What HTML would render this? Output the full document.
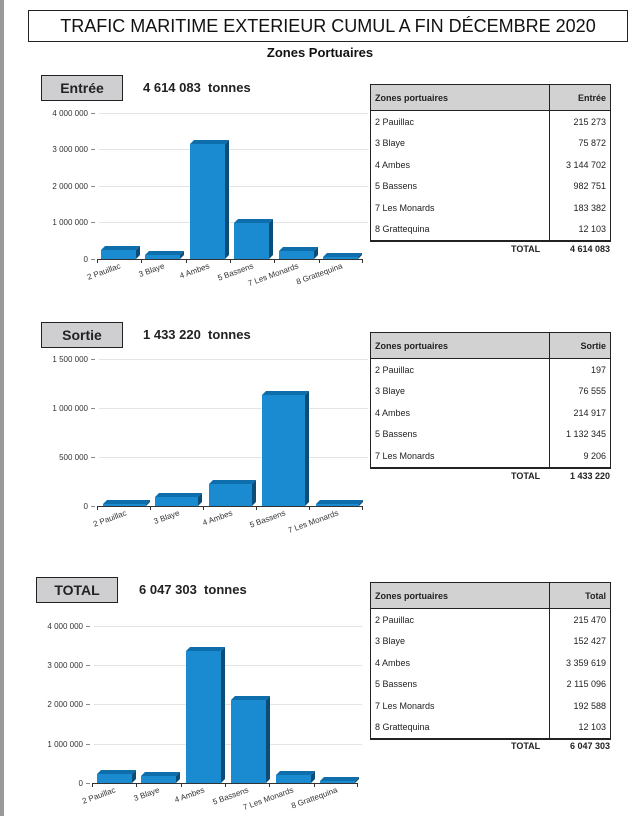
<!DOCTYPE html>
<html><head><meta charset="utf-8"><style>
html,body{margin:0;padding:0;background:#fff;}
body{width:640px;height:816px;position:relative;overflow:hidden;font-family:"Liberation Sans",Arial,sans-serif;}
.bar{position:absolute;left:0;top:0;width:4px;height:816px;background:#9a9a9a;}
.t{position:absolute;}
table{position:absolute;border-collapse:collapse;font-size:9px;color:#222;width:241px;}
td{border-left:1px solid #222;border-right:1px solid #222;padding:0 4px;height:21.5px;}
tr.h td{background:#d2d2d2;font-weight:bold;height:25px;border-top:1px solid #222;border-bottom:1px solid #222;}
tr.last td{border-bottom:2px solid #222;}
td.r{text-align:right;}
.tot{position:absolute;font-size:9px;font-weight:bold;color:#222;}
</style></head><body>
<div class="bar"></div>
<div class="t" style="left:28px;top:10px;width:598px;height:30px;border:1px solid #222;text-align:center;font-size:18px;line-height:30px;color:#111;">TRAFIC MARITIME EXTERIEUR CUMUL A FIN DÉCEMBRE 2020</div>
<div class="t" style="left:0;width:640px;top:45px;text-align:center;font-size:13px;font-weight:bold;color:#111;">Zones Portuaires</div>

<div class="t" style="left:41px;top:75px;width:80px;height:24px;border:1px solid #222;background:#cfcfd1;text-align:center;line-height:24px;font-weight:bold;font-size:14px;color:#222;">Entrée</div>
<div class="t" style="left:143px;top:80px;font-size:13px;font-weight:bold;color:#222;">4 614 083&nbsp; tonnes</div>
<div class="t" style="left:41px;top:322px;width:80px;height:24px;border:1px solid #222;background:#cfcfd1;text-align:center;line-height:24px;font-weight:bold;font-size:14px;color:#222;">Sortie</div>
<div class="t" style="left:143px;top:327px;font-size:13px;font-weight:bold;color:#222;">1 433 220&nbsp; tonnes</div>
<div class="t" style="left:36px;top:577px;width:80px;height:24px;border:1px solid #222;background:#cfcfd1;text-align:center;line-height:24px;font-weight:bold;font-size:14px;color:#222;">TOTAL</div>
<div class="t" style="left:139px;top:582px;font-size:13px;font-weight:bold;color:#222;">6 047 303&nbsp; tonnes</div>

<table style="left:370px;top:84px;">
<tr class="h"><td>Zones portuaires</td><td class="r" style="width:52px">Entrée</td></tr>
<tr><td>2 Pauillac</td><td class="r">215 273</td></tr>
<tr><td>3 Blaye</td><td class="r">75 872</td></tr>
<tr><td>4 Ambes</td><td class="r">3 144 702</td></tr>
<tr><td>5 Bassens</td><td class="r">982 751</td></tr>
<tr><td>7 Les Monards</td><td class="r">183 382</td></tr>
<tr class="last"><td>8 Grattequina</td><td class="r">12 103</td></tr>
</table>
<div class="tot" style="left:511px;top:244px;">TOTAL</div><div class="tot" style="left:560px;width:50px;text-align:right;top:244px;">4 614 083</div>

<table style="left:370px;top:332px;">
<tr class="h"><td>Zones portuaires</td><td class="r" style="width:52px">Sortie</td></tr>
<tr><td>2 Pauillac</td><td class="r">197</td></tr>
<tr><td>3 Blaye</td><td class="r">76 555</td></tr>
<tr><td>4 Ambes</td><td class="r">214 917</td></tr>
<tr><td>5 Bassens</td><td class="r">1 132 345</td></tr>
<tr class="last"><td>7 Les Monards</td><td class="r">9 206</td></tr>
</table>
<div class="tot" style="left:511px;top:471px;">TOTAL</div><div class="tot" style="left:560px;width:50px;text-align:right;top:471px;">1 433 220</div>

<table style="left:370px;top:582px;">
<tr class="h"><td>Zones portuaires</td><td class="r" style="width:52px">Total</td></tr>
<tr><td>2 Pauillac</td><td class="r">215 470</td></tr>
<tr><td>3 Blaye</td><td class="r">152 427</td></tr>
<tr><td>4 Ambes</td><td class="r">3 359 619</td></tr>
<tr><td>5 Bassens</td><td class="r">2 115 096</td></tr>
<tr><td>7 Les Monards</td><td class="r">192 588</td></tr>
<tr class="last"><td>8 Grattequina</td><td class="r">12 103</td></tr>
</table>
<div class="tot" style="left:511px;top:741px;">TOTAL</div><div class="tot" style="left:560px;width:50px;text-align:right;top:741px;">6 047 303</div>

<svg class="t" style="left:0;top:0" width="640" height="816" xmlns="http://www.w3.org/2000/svg" font-family="Liberation Sans, Arial, sans-serif">
<defs>
<g id="x"></g>
</defs>
<g stroke="#e4e4e4" stroke-width="1">
<line x1="99" y1="113.5" x2="368" y2="113.5"/><line x1="99" y1="149.5" x2="368" y2="149.5"/><line x1="99" y1="186.5" x2="368" y2="186.5"/><line x1="99" y1="222.5" x2="368" y2="222.5"/>
<line x1="99" y1="359.5" x2="368" y2="359.5"/><line x1="99" y1="408.5" x2="368" y2="408.5"/><line x1="99" y1="457.5" x2="368" y2="457.5"/>
<line x1="94" y1="626.5" x2="362" y2="626.5"/><line x1="94" y1="665.5" x2="362" y2="665.5"/><line x1="94" y1="704.5" x2="362" y2="704.5"/><line x1="94" y1="744.5" x2="362" y2="744.5"/>
</g>
<g stroke="#888" stroke-width="1">
<line x1="91" y1="113.5" x2="95" y2="113.5"/><line x1="91" y1="149.5" x2="95" y2="149.5"/><line x1="91" y1="186.5" x2="95" y2="186.5"/><line x1="91" y1="222.5" x2="95" y2="222.5"/><line x1="91" y1="259.5" x2="95" y2="259.5"/>
<line x1="91" y1="359.5" x2="95" y2="359.5"/><line x1="91" y1="408.5" x2="95" y2="408.5"/><line x1="91" y1="457.5" x2="95" y2="457.5"/><line x1="91" y1="506.5" x2="95" y2="506.5"/>
<line x1="86" y1="626.5" x2="90" y2="626.5"/><line x1="86" y1="665.5" x2="90" y2="665.5"/><line x1="86" y1="704.5" x2="90" y2="704.5"/><line x1="86" y1="744.5" x2="90" y2="744.5"/><line x1="86" y1="783.5" x2="90" y2="783.5"/>
</g>
<g stroke="#333" stroke-width="1">
<line x1="97" y1="259.5" x2="363" y2="259.5"/>
<line x1="97.5" y1="259" x2="97.5" y2="263"/><line x1="141.5" y1="259" x2="141.5" y2="263"/><line x1="186.5" y1="259" x2="186.5" y2="263"/><line x1="230.5" y1="259" x2="230.5" y2="263"/><line x1="274.5" y1="259" x2="274.5" y2="263"/><line x1="319.5" y1="259" x2="319.5" y2="263"/><line x1="362.5" y1="259" x2="362.5" y2="263"/>
<line x1="97" y1="506.5" x2="363" y2="506.5"/>
<line x1="97.5" y1="506" x2="97.5" y2="510"/><line x1="150.5" y1="506" x2="150.5" y2="510"/><line x1="203.5" y1="506" x2="203.5" y2="510"/><line x1="256.5" y1="506" x2="256.5" y2="510"/><line x1="309.5" y1="506" x2="309.5" y2="510"/><line x1="362.5" y1="506" x2="362.5" y2="510"/>
<line x1="92" y1="783.5" x2="358" y2="783.5"/>
<line x1="92.5" y1="783" x2="92.5" y2="787"/><line x1="136.5" y1="783" x2="136.5" y2="787"/><line x1="181.5" y1="783" x2="181.5" y2="787"/><line x1="225.5" y1="783" x2="225.5" y2="787"/><line x1="269.5" y1="783" x2="269.5" y2="787"/><line x1="314.5" y1="783" x2="314.5" y2="787"/><line x1="357.5" y1="783" x2="357.5" y2="787"/>
</g>
<g font-size="8" fill="#333" text-anchor="end">
<text x="88" y="116">4 000 000</text><text x="88" y="152">3 000 000</text><text x="88" y="189">2 000 000</text><text x="88" y="225">1 000 000</text><text x="88" y="262">0</text>
<text x="88" y="362">1 500 000</text><text x="88" y="411">1 000 000</text><text x="88" y="460">500 000</text><text x="88" y="509">0</text>
<text x="83" y="629">4 000 000</text><text x="83" y="668">3 000 000</text><text x="83" y="707">2 000 000</text><text x="83" y="747">1 000 000</text><text x="83" y="786">0</text>
</g>
<g font-size="8" fill="#333" text-anchor="end">
<text transform="translate(121,268) rotate(-20)">2 Pauillac</text>
<text transform="translate(165,268) rotate(-20)">3 Blaye</text>
<text transform="translate(210,268) rotate(-20)">4 Ambes</text>
<text transform="translate(254,268) rotate(-20)">5 Bassens</text>
<text transform="translate(299,268) rotate(-20)">7 Les Monards</text>
<text transform="translate(343,268) rotate(-20)">8 Grattequina</text>
<text transform="translate(127,515) rotate(-20)">2 Pauillac</text>
<text transform="translate(180,515) rotate(-20)">3 Blaye</text>
<text transform="translate(233,515) rotate(-20)">4 Ambes</text>
<text transform="translate(286,515) rotate(-20)">5 Bassens</text>
<text transform="translate(339,515) rotate(-20)">7 Les Monards</text>
<text transform="translate(116,792) rotate(-20)">2 Pauillac</text>
<text transform="translate(160,792) rotate(-20)">3 Blaye</text>
<text transform="translate(205,792) rotate(-20)">4 Ambes</text>
<text transform="translate(249,792) rotate(-20)">5 Bassens</text>
<text transform="translate(294,792) rotate(-20)">7 Les Monards</text>
<text transform="translate(338,792) rotate(-20)">8 Grattequina</text>
</g>
<g id="bars"></g>
<!-- chart1 bars base 259 w35 -->
<g>
<polygon fill="#0e6eac" points="101,250 105,246 140,246 136,250"/><polygon fill="#0a4d78" points="136,250 140,246 140,255 136,259"/><rect fill="#1a8bd0" x="101" y="250" width="35" height="9"/>
<polygon fill="#0e6eac" points="145,255 149,251 184,251 180,255"/><polygon fill="#0a4d78" points="180,255 184,251 184,255 180,259"/><rect fill="#1a8bd0" x="145" y="255" width="35" height="4"/>
<polygon fill="#0e6eac" points="190,144 194,140 229,140 225,144"/><polygon fill="#0a4d78" points="225,144 229,140 229,255 225,259"/><rect fill="#1a8bd0" x="190" y="144" width="35" height="115"/>
<polygon fill="#0e6eac" points="234,223 238,219 273,219 269,223"/><polygon fill="#0a4d78" points="269,223 273,219 273,255 269,259"/><rect fill="#1a8bd0" x="234" y="223" width="35" height="36"/>
<polygon fill="#0e6eac" points="279,251 283,247 318,247 314,251"/><polygon fill="#0a4d78" points="314,251 318,247 318,255 314,259"/><rect fill="#1a8bd0" x="279" y="251" width="35" height="8"/>
<polygon fill="#0e6eac" points="323,257 327,253 362,253 358,257"/><polygon fill="#0a4d78" points="358,257 362,253 362,255 358,259"/><rect fill="#1a8bd0" x="323" y="257" width="35" height="2"/>
</g>
<!-- chart2 base 506 w43 -->
<g>
<polygon fill="#0e6eac" points="103,504 107,500 150,500 146,504"/><polygon fill="#0a4d78" points="146,504 150,500 150,502 146,506"/><rect fill="#1a8bd0" x="103" y="504" width="43" height="2"/>
<polygon fill="#0e6eac" points="155,497 159,493 202,493 198,497"/><polygon fill="#0a4d78" points="198,497 202,493 202,502 198,506"/><rect fill="#1a8bd0" x="155" y="497" width="43" height="9"/>
<polygon fill="#0e6eac" points="209,484 213,480 256,480 252,484"/><polygon fill="#0a4d78" points="252,484 256,480 256,502 252,506"/><rect fill="#1a8bd0" x="209" y="484" width="43" height="22"/>
<polygon fill="#0e6eac" points="262,395 266,391 309,391 305,395"/><polygon fill="#0a4d78" points="305,395 309,391 309,502 305,506"/><rect fill="#1a8bd0" x="262" y="395" width="43" height="111"/>
<polygon fill="#0e6eac" points="316,504 320,500 363,500 359,504"/><polygon fill="#0a4d78" points="359,504 363,500 363,502 359,506"/><rect fill="#1a8bd0" x="316" y="504" width="43" height="2"/>
</g>
<!-- chart3 base 783 w35 -->
<g>
<polygon fill="#0e6eac" points="97,774 101,770 136,770 132,774"/><polygon fill="#0a4d78" points="132,774 136,770 136,779 132,783"/><rect fill="#1a8bd0" x="97" y="774" width="35" height="9"/>
<polygon fill="#0e6eac" points="141,776 145,772 180,772 176,776"/><polygon fill="#0a4d78" points="176,776 180,772 180,779 176,783"/><rect fill="#1a8bd0" x="141" y="776" width="35" height="7"/>
<polygon fill="#0e6eac" points="186,651 190,647 225,647 221,651"/><polygon fill="#0a4d78" points="221,651 225,647 225,779 221,783"/><rect fill="#1a8bd0" x="186" y="651" width="35" height="132"/>
<polygon fill="#0e6eac" points="231,700 235,696 270,696 266,700"/><polygon fill="#0a4d78" points="266,700 270,696 270,779 266,783"/><rect fill="#1a8bd0" x="231" y="700" width="35" height="83"/>
<polygon fill="#0e6eac" points="276,775 280,771 315,771 311,775"/><polygon fill="#0a4d78" points="311,775 315,771 315,779 311,783"/><rect fill="#1a8bd0" x="276" y="775" width="35" height="8"/>
<polygon fill="#0e6eac" points="320,781 324,777 359,777 355,781"/><polygon fill="#0a4d78" points="355,781 359,777 359,779 355,783"/><rect fill="#1a8bd0" x="320" y="781" width="35" height="2"/>
</g>
</svg>
</body></html>
